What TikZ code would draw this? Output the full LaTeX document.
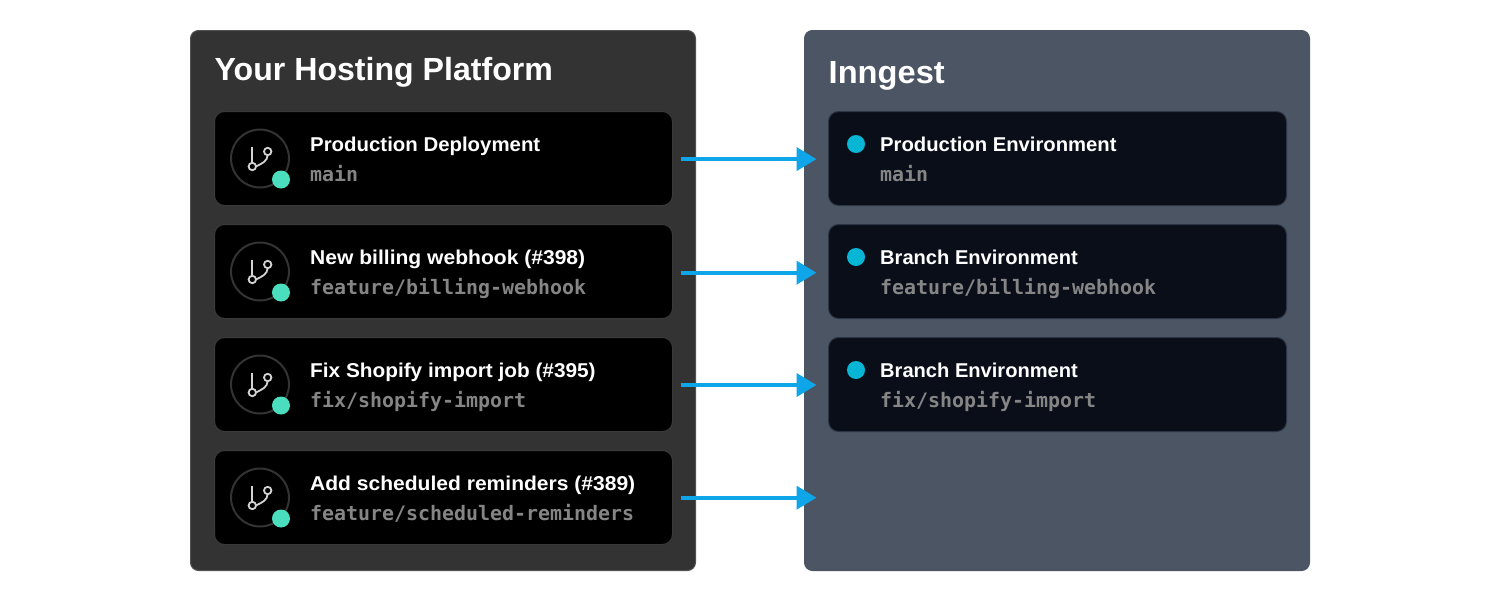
\documentclass[tikz,border=0pt]{standalone}
\usepackage{fontspec}
\usepackage{graphicx}
\setmainfont{Liberation Sans}
\setmonofont{DejaVu Sans Mono}
\usetikzlibrary{arrows.meta,calc}
\definecolor{leftpanel}{HTML}{333333}
\definecolor{rightpanel}{HTML}{4B5563}
\definecolor{envcard}{HTML}{0A0E19}
\definecolor{envedge}{HTML}{2D3544}
\definecolor{cardedge}{HTML}{3A3A3A}
\definecolor{mint}{HTML}{4ADEBF}
\definecolor{cyandot}{HTML}{06B6D4}
\definecolor{arrowblue}{HTML}{0EA5E9}
\definecolor{monogray}{HTML}{858585}
\definecolor{ringgray}{HTML}{333333}
\definecolor{glyph}{HTML}{D4D4D4}
\tikzset{
  x=1pt,y=-1pt,
  panel/.style={rectangle,rounded corners=8pt,inner sep=0pt,outer sep=0pt,anchor=north west,line width=1pt},
  card/.style={rectangle,rounded corners=10pt,inner sep=0pt,outer sep=0pt,anchor=north west,minimum width=#1,minimum height=94pt,line width=1pt},
  heading/.style={anchor=base west,inner sep=0pt,text=white,font=\fontsize{32}{38}\selectfont\bfseries},
  cardtitle/.style={anchor=base west,inner sep=0pt,text=white,font=\fontsize{20}{24}\selectfont\bfseries},
  cardmono/.style={anchor=base west,inner sep=0pt,text=monogray,font=\fontsize{19.93}{24}\selectfont\ttfamily\bfseries},
  flow/.style={draw=arrowblue,line width=4pt,-{Triangle[length=20pt,width=23pt]},shorten <=8pt,shorten >=12pt},
  ring/.style={circle,draw=ringgray,line width=2pt,minimum size=58pt,inner sep=0pt,outer sep=0pt},
  badge/.style={circle,fill=mint,minimum size=18pt,inner sep=0pt},
  envdot/.style={circle,fill=cyandot,minimum size=18pt,inner sep=0pt},
  glyphline/.style={draw=glyph,line width=1.8pt}
}
\newcommand{\branchglyph}[1]{%
  \draw[glyphline] ($(#1)+(-7.7,-12)$) -- ($(#1)+(-7.7,4)$);
  \draw[glyphline] ($(#1)+(-7.7,8)$) circle[radius=3.7pt];
  \draw[glyphline] ($(#1)+(7.7,-7)$) circle[radius=3.7pt];
  \draw[glyphline] ($(#1)+(7.7,-3.3)$) .. controls ($(#1)+(7.2,2.5)$) and ($(#1)+(2.5,5)$) .. ($(#1)+(-4.3,8)$);
}
\begin{document}
\begin{tikzpicture}
\useasboundingbox (0,0) rectangle (1500,600);
\node[panel,fill=leftpanel,draw=leftpanel!85!white,minimum width=505pt,minimum height=540pt] (hostpanel) at (190.5,30.5) {};
\node[panel,fill=rightpanel,draw=rightpanel,minimum width=505pt,minimum height=540pt] (innpanel) at (804.5,30.5) {};
\node[heading] (hosttitle) at (214.5,80) {\scalebox{1.003}[1]{Your Hosting Platform}};
\node[heading] (inntitle) at (828.5,83) {\scalebox{1.02}[1]{Inngest}};
% left cards
\foreach \n/\y/\s/\t/\m in {1/111.5/1.02/Production Deployment/main,
  2/224.5/1.053/New billing webhook (\#398)/feature\slash billing-webhook,
  3/337.5/1.04/Fix Shopify import job (\#395)/fix\slash shopify-import,
  4/450.5/1.052/Add scheduled reminders (\#389)/feature\slash scheduled-reminders}{
  \node[card=458pt,fill=black,draw=cardedge] (host\n) at (214.5,\y) {};
  \node[ring] (ring\n) at (260,\y+47) {};
  \branchglyph{ring\n}
  \node[badge] (badge\n) at (281,\y+68) {};
  \node[cardtitle] (hostlabel\n) at (310,\y+39.5) {\scalebox{\s}[1]{\t}};
  \node[cardmono] (hostbranch\n) at (310,\y+69.5) {\m};
}
% right cards
\foreach \n/\y/\s/\t/\m in {1/111.5/1.013/Production Environment/main,
  2/224.5/1.005/Branch Environment/feature\slash billing-webhook,
  3/337.5/1.005/Branch Environment/fix\slash shopify-import}{
  \node[card=458pt,fill=envcard,draw=envedge] (env\n) at (828.5,\y) {};
  \node[envdot] (dot\n) at (856,\y+32.5) {};
  \node[cardtitle] (envlabel\n) at (880,\y+39.5) {\scalebox{\s}[1]{\t}};
  \node[cardmono] (envbranch\n) at (880,\y+69.5) {\m};
}
\coordinate (free4) at (828.5,497.7);
\draw[flow] ([yshift=-0.6pt]host1.east) -- ([yshift=-0.6pt]env1.west);
\draw[flow] ([yshift=-1.2pt]host2.east) -- ([yshift=-1.2pt]env2.west);
\draw[flow] ([yshift=-0.5pt]host3.east) -- ([yshift=-0.5pt]env3.west);
\draw[flow] ([yshift=-0.2pt]host4.east) -- (free4);
\end{tikzpicture}
\end{document}
